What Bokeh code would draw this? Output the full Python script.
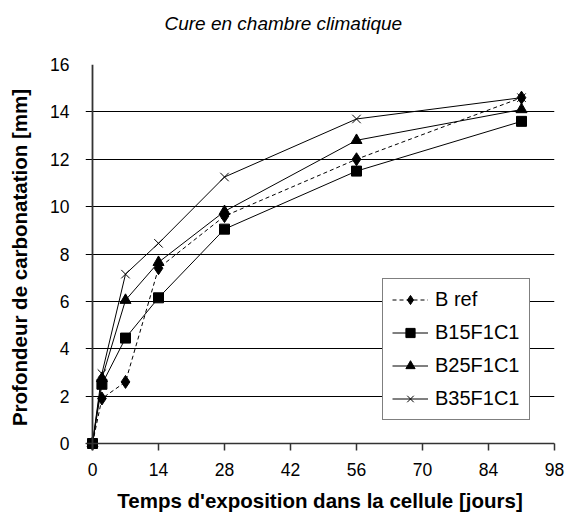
from bokeh.plotting import figure
from bokeh.models import Range1d, FixedTicker, Legend, Span
from bokeh.embed import file_html
from bokeh.resources import INLINE

days = [0, 2, 7, 14, 28, 56, 91]
b_ref = [0, 1.9, 2.6, 7.4, 9.6, 12.0, 14.6]
b15 = [0, 2.5, 4.45, 6.15, 9.05, 11.5, 13.6]
b25 = [0, 2.75, 6.05, 7.65, 9.8, 12.8, 14.1]
b35 = [0, 2.95, 7.15, 8.45, 11.25, 13.7, 14.6]

x_ticks = [0, 14, 28, 42, 56, 70, 84, 98]
y_ticks = [0, 2, 4, 6, 8, 10, 12, 14, 16]

FONT = "Liberation Sans"

# small margin (in data units) so markers at the origin are not clipped;
# the visible axes are drawn at x=0 / y=0
X_PAD = 1.485
Y_PAD = 0.2955

p = figure(width=575, height=522, output_backend="svg", toolbar_location=None,
           x_range=Range1d(-X_PAD, 98), y_range=Range1d(-Y_PAD, 16),
           min_border_left=85, min_border_right=21, min_border_top=64, min_border_bottom=72)

# a blank second line lifts the title away from the plot frame
p.title.text = "Cure en chambre climatique\n "
p.title.text_font = FONT
p.title.text_font_style = "italic"
p.title.text_font_size = "19px"
p.title.align = "left"
p.title.offset = 79
p.title.standoff = 19
p.title.text_color = "black"

p.outline_line_color = None
p.xgrid.grid_line_color = None
p.ygrid.grid_line_color = "black"
p.ygrid.grid_line_width = 1
p.ygrid.ticker = FixedTicker(ticks=y_ticks)

p.xaxis.ticker = FixedTicker(ticks=x_ticks)
p.yaxis.ticker = FixedTicker(ticks=y_ticks)
for ax in (p.xaxis[0], p.yaxis[0]):
    ax.axis_line_color = None
    ax.minor_tick_line_color = None
    ax.major_label_text_font = FONT
    ax.major_label_text_font_size = "17.5px"
    ax.major_label_text_color = "black"
    ax.axis_label_text_font = FONT
    ax.axis_label_text_font_style = "bold"
    ax.axis_label_text_font_size = "20.5px"
    ax.axis_label_text_color = "black"

p.xaxis.major_tick_line_color = "#333333"
p.xaxis.major_tick_line_width = 1.5
p.xaxis.major_tick_in = 7
p.xaxis.major_tick_out = 0
p.yaxis.major_tick_line_color = None

p.xaxis.axis_label = "Temps d'exposition dans la cellule [jours]"
p.yaxis.axis_label = "Profondeur de carbonatation [mm]"
p.xaxis.major_label_standoff = 12
p.yaxis.major_label_standoff = 10
p.xaxis.axis_label_standoff = 10
p.yaxis.axis_label_standoff = 16

p.add_layout(Span(location=0, dimension="height", line_color="#333333", line_width=1.8))
p.add_layout(Span(location=0, dimension="width", line_color="#333333", line_width=1.5))

r1 = p.line(days, b_ref, line_color="black", line_dash="4 3", line_width=1)
m1 = p.scatter(days, b_ref, marker="diamond", size=13, color="black")
r2 = p.line(days, b15, line_color="black", line_width=1)
m2 = p.scatter(days, b15, marker="square", size=10, color="black")
r3 = p.line(days, b25, line_color="black", line_width=1)
m3 = p.scatter(days, b25, marker="triangle", size=11, color="black")
r4 = p.line(days, b35, line_color="black", line_width=1)
m4 = p.scatter(days, b35, marker="x", size=12, line_color="black", line_width=1)

legend = Legend(items=[("B ref", [r1, m1]), ("B15F1C1", [r2, m2]),
                       ("B25F1C1", [r3, m3]), ("B35F1C1", [r4, m4])],
                location=(297, 30))
legend.label_text_font = FONT
legend.label_text_font_size = "20px"
legend.label_text_color = "black"
legend.label_height = 23
legend.glyph_height = 23
legend.border_line_color = "black"
legend.border_line_width = 1
legend.background_fill_color = "white"
legend.background_fill_alpha = 1
legend.glyph_width = 36
legend.spacing = 10
legend.padding = 9
legend.margin = 0
legend.label_standoff = 7
p.add_layout(legend, "center")

open("out.html", "w").write(file_html(p, INLINE))
